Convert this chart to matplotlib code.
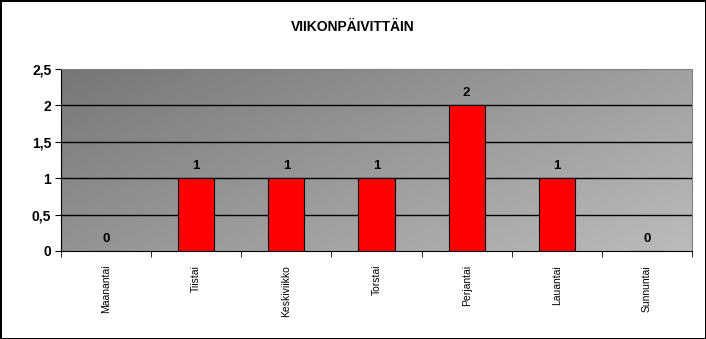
import numpy as np
import matplotlib.pyplot as plt

plt.rcParams['font.family'] = ['Liberation Sans', 'DejaVu Sans']

days = ['Maanantai', 'Tiistai', 'Keskiviikko', 'Torstai', 'Perjantai', 'Lauantai', 'Sunnuntai']
counts = [0, 1, 1, 1, 2, 1, 0]
yticks = [0, 0.5, 1, 1.5, 2, 2.5]
ytick_labels = ['0', '0,5', '1', '1,5', '2', '2,5']

fig = plt.figure(figsize=(7.06, 3.39), dpi=100)
fig.patch.set_facecolor('white')
fig.patch.set_edgecolor('black')
fig.patch.set_linewidth(2)

ax = fig.add_axes([61/706, 1-251/339, 631/706, 182/339])

# gradient background, dark top-left to light bottom-right
gx, gy = np.meshgrid(np.linspace(0, 1, 200), np.linspace(0, 1, 100))
grad = 0.6 * gx + 0.4 * gy
ax.imshow(grad, cmap='gray', vmin=-1.756, vmax=2.004, extent=[-0.5, 6.5, 0, 2.5],
          aspect='auto', origin='upper', zorder=0)

for y in yticks[1:-1]:
    ax.axhline(y, color='black', lw=1, zorder=1)

x = np.arange(len(days))
ax.bar(x, counts, width=0.4, color='#ff0000', edgecolor='black', lw=0.8, zorder=2)
for xi, c in zip(x, counts):
    ax.text(xi, c + 0.17, str(c), ha='center', va='center', fontsize=9.5, fontweight='bold', zorder=3)

ax.set_xlim(-0.5, 6.5)
ax.set_ylim(0, 2.5)
ax.set_yticks(yticks)
ax.set_yticklabels(ytick_labels, fontsize=10, fontweight='bold')
ax.set_xticks(x)
ax.set_xticklabels(days, rotation=90, fontsize=7.5)
ax.set_xticks(np.arange(-0.5, 7, 1), minor=True)
ax.tick_params(axis='x', which='major', length=0, pad=10)
ax.tick_params(axis='x', which='minor', length=4, direction='out')
ax.tick_params(axis='y', length=4, direction='out', pad=3)

ax.spines['left'].set_color('black')
ax.spines['bottom'].set_color('black')
ax.spines['top'].set_color('#808080')
ax.spines['right'].set_color('#808080')

fig.text(0.5, 1-27/339, 'VIIKONPÄIVITTÄIN', ha='center', va='center', fontsize=10, fontweight='bold')

fig.savefig('out.png', dpi=100, edgecolor=fig.get_edgecolor())
